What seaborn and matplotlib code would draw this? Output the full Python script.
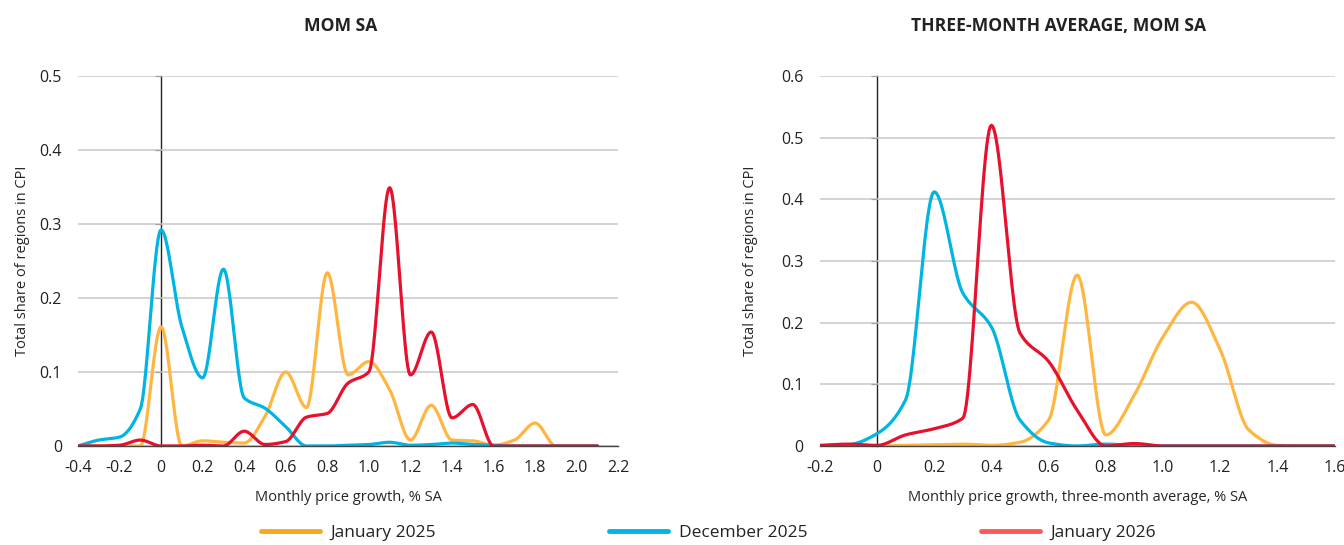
import numpy as np
import pandas as pd
import matplotlib
matplotlib.use("Agg")
import matplotlib.pyplot as plt
from matplotlib.lines import Line2D
import seaborn as sns

# Left panel: monthly price growth, % SA (x) vs share of regions in CPI
growth_mom = [-0.4, -0.3, -0.2, -0.1, 0.0, 0.1, 0.2, 0.3, 0.4, 0.5, 0.6, 0.7, 0.8,
              0.9, 1.0, 1.1, 1.2, 1.3, 1.4, 1.5, 1.6, 1.7, 1.8, 1.9, 2.0, 2.1]
mom_jan25 = [0, 0, 0, 0, 0.161, 0, 0.007, 0.005, 0.004, 0.04, 0.1, 0.052, 0.234,
             0.096, 0.114, 0.076, 0.008, 0.055, 0.008, 0.007, 0.001, 0.008, 0.031, 0, 0, 0]
mom_dec25 = [0, 0.008, 0.012, 0.05, 0.292, 0.161, 0.092, 0.239, 0.065, 0.051, 0.026, 0.0,
             0.0, 0.001, 0.002, 0.005, 0.001, 0.002, 0.004, 0.002, 0.001, 0, 0, 0, 0, 0]
mom_jan26 = [0, 0, 0.001, 0.008, 0, 0, 0.001, 0, 0.02, 0.002, 0.006, 0.039, 0.044,
             0.085, 0.1, 0.349, 0.096, 0.154, 0.038, 0.056, 0, 0, 0, 0, 0, 0]

# Right panel: three-month average
growth_3m = [-0.2, -0.1, 0.0, 0.1, 0.2, 0.3, 0.4, 0.5, 0.6, 0.7, 0.8, 0.9, 1.0,
             1.1, 1.2, 1.3, 1.4, 1.5, 1.6]
avg_jan25 = [0, 0, 0, 0.001, 0.002, 0.003, 0.001, 0.006, 0.042, 0.277, 0.018, 0.083,
             0.177, 0.233, 0.156, 0.026, 0.001, 0, 0]
avg_dec25 = [0, 0.002, 0.02, 0.075, 0.412, 0.248, 0.193, 0.042, 0.005, 0, 0.003, 0.001,
             0, 0, 0, 0, 0, 0, 0]
avg_jan26 = [0.001, 0.003, 0.001, 0.018, 0.028, 0.045, 0.52, 0.183, 0.137, 0.058, 0,
             0.004, 0, 0, 0, 0, 0, 0, 0]

series_names = ["January 2025", "December 2025", "January 2026"]
line_colors = ["#FFB640", "#00B4E3", "#E8112D"]
legend_colors = ["#F7A823", "#00B4E3", "#FF5A5A"]


def smooth_line(x, y, steps=24):
    """Monotone cubic (Fritsch-Carlson) curve through the points, so the
    smoothed line never overshoots below zero."""
    x = np.asarray(x, float)
    y = np.asarray(y, float)
    h = np.diff(x)
    d = np.diff(y) / h
    m = np.zeros_like(y)
    m[0], m[-1] = d[0], d[-1]
    for i in range(1, len(y) - 1):
        if d[i - 1] * d[i] > 0:
            w1 = 2 * h[i] + h[i - 1]
            w2 = h[i] + 2 * h[i - 1]
            m[i] = (w1 + w2) / (w1 / d[i - 1] + w2 / d[i])
    xs, ys = [], []
    t = np.linspace(0, 1, steps, endpoint=False)
    for i in range(len(x) - 1):
        h00 = 2 * t ** 3 - 3 * t ** 2 + 1
        h10 = t ** 3 - 2 * t ** 2 + t
        h01 = -2 * t ** 3 + 3 * t ** 2
        h11 = t ** 3 - t ** 2
        xs.append(x[i] + t * h[i])
        ys.append(h00 * y[i] + h10 * h[i] * m[i] + h01 * y[i + 1] + h11 * h[i] * m[i + 1])
    xs.append([x[-1]])
    ys.append([y[-1]])
    return np.concatenate(xs), np.concatenate(ys)


def build_frame(x, series):
    rows = []
    for name, vals in zip(series_names, series):
        sx, sy = smooth_line(x, vals)
        rows.append(pd.DataFrame({"x": sx, "share": sy, "series": name}))
    return pd.concat(rows, ignore_index=True)


def fmt(v):
    return "0" if abs(v) < 1e-9 else f"{v:.1f}"


sns.set_style("white")
plt.rcParams["font.family"] = ["Open Sans", "DejaVu Sans"]
plt.rcParams["text.color"] = "#222222"

fig = plt.figure(figsize=(13.44, 5.45), dpi=100)
ax1 = fig.add_axes([0.058, 0.1817, 0.402, 0.679])
ax2 = fig.add_axes([0.610, 0.1817, 0.383, 0.679])

panels = [
    (ax1, growth_mom, [mom_jan25, mom_dec25, mom_jan26], (-0.4, 2.2), 0.5,
     "MOM SA", "Monthly price growth, % SA", 341, 7),
    (ax2, growth_3m, [avg_jan25, avg_dec25, avg_jan26], (-0.2, 1.6), 0.6,
     "THREE-MONTH AVERAGE, MOM SA", "Monthly price growth, three-month average, % SA",
     1059, 17),
]

for ax, xs, series, xlim, ymax, title, xlabel, title_px, ylab_pad in panels:
    df = build_frame(xs, series)
    sns.lineplot(data=df, x="x", y="share", hue="series", palette=line_colors,
                 hue_order=series_names, sort=False, estimator=None, legend=False,
                 linewidth=2.3, ax=ax)
    ax.set_xlim(*xlim)
    ax.set_ylim(0, ymax)
    xt = np.round(np.arange(xlim[0], xlim[1] + 0.01, 0.2), 1)
    yt = np.round(np.arange(0, ymax + 0.01, 0.1), 1)
    ax.set_xticks(xt)
    ax.set_xticklabels([fmt(v) for v in xt], fontsize=11.5, color="#222222")
    ax.set_yticks(yt)
    ax.set_yticklabels([fmt(v) for v in yt], fontsize=11.5, color="#222222")
    ax.yaxis.grid(True, color="#c8c8c8", linewidth=1.1)
    ax.set_axisbelow(True)
    for s in ["left", "right", "top"]:
        ax.spines[s].set_visible(False)
    ax.spines["bottom"].set_color("#444444")
    ax.spines["bottom"].set_linewidth(1.0)
    ax.tick_params(axis="x", direction="out", length=4, color="#444444", pad=6)
    ax.tick_params(axis="y", length=0, pad=11.5)
    ax.set_xlabel(xlabel, fontsize=10.5, labelpad=10)
    ax.set_ylabel("Total share of regions in CPI", fontsize=10.5, labelpad=ylab_pad)
    fig.text(title_px / 1344, 1 - 26 / 545, title, fontsize=12.6, fontweight="bold",
             ha="center", va="center")
    # vertical zero axis with its own tick marks
    zero_frac = (0 - xlim[0]) / (xlim[1] - xlim[0])
    sec = ax.secondary_yaxis(zero_frac)
    sec.set_yticks(yt)
    sec.set_yticklabels([])
    sec.tick_params(length=4, color="#222222", direction="out")
    sec.spines["left"].set_color("#222222")
    sec.spines["left"].set_linewidth(1.0)

handles = [Line2D([0], [0], color=c, linewidth=3.5) for c in legend_colors]
fig.legend(handles, series_names, loc="lower center", ncol=3, frameon=False,
           bbox_to_anchor=(0.527, -0.022), columnspacing=10.0, handlelength=3.4,
           handletextpad=0.6, fontsize=12.5)

fig.savefig("out.png", dpi=100)
